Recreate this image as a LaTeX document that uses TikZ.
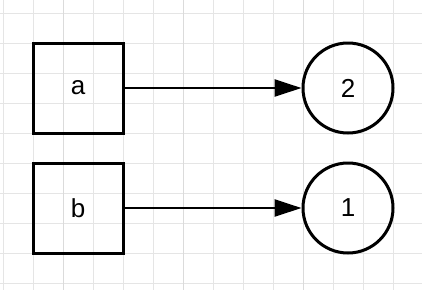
\documentclass[tikz,border=0pt]{standalone}
\usepackage{fontspec}
\setmainfont{Liberation Sans}
\usetikzlibrary{arrows.meta}
\begin{document}
\begin{tikzpicture}[x=1pt,y=-1pt,
    box/.style={draw,line width=3pt,minimum size=90pt,inner sep=0pt,font=\fontsize{26}{29}\selectfont},
    ring/.style={draw,circle,line width=3pt,minimum size=90pt,inner sep=0pt,font=\fontsize{26}{29}\selectfont},
    link/.style={line width=2.6pt,-{Triangle[length=27pt,width=17pt]}}]
  \useasboundingbox (0,0) rectangle (422,290);
  % grid
  \foreach \x in {3,33,...,423} \draw[black!10,line width=1pt] (\x,0) -- (\x,290);
  \foreach \y in {13,43,...,290} \draw[black!10,line width=1pt] (0,\y) -- (422,\y);
  \foreach \x in {63,183,303} \draw[black!14,line width=1pt] (\x,0) -- (\x,290);
  \node[box] (a) at (78,88) {a};
  \node[box] (b) at (78,208) {b};
  \node[ring] (two) at (348,88) {2};
  \node[ring] (one) at (348,208) {1};
  \draw[link] (a) -- (two);
  \draw[link] (b) -- (one);
\end{tikzpicture}
\end{document}
